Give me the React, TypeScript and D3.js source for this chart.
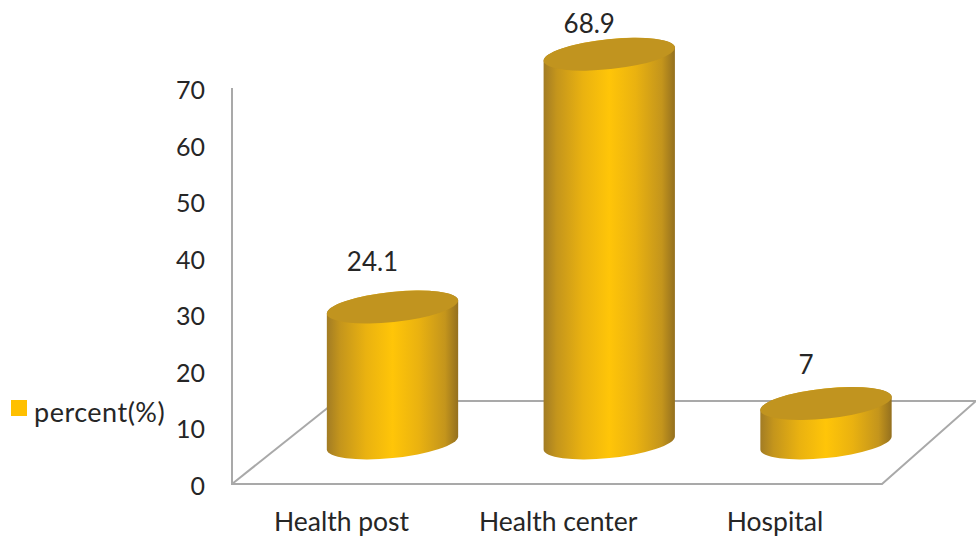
import React from "react";
import * as d3 from "d3";

const categories = ["Health post", "Health center", "Hospital"];
const percentValues = [24.1, 68.9, 7];
const axisTicks = [0, 10, 20, 30, 40, 50, 60, 70];
const seriesName = "percent(%)";

const WIDTH = 976;
const HEIGHT = 538;
const FONT = "Lato, 'Open Sans', sans-serif";
const AXIS_COLOR = "#a9a9a9";
const TEXT_COLOR = "#262626";

// Wall axis scale
const yAxis = d3.scaleLinear().domain([0, 70]).range([484, 88]);
const barX = d3.scalePoint<string>().domain(categories).range([392.5, 826]);
// Cylinders stand further back on the floor, so they have their own baseline
const barY = d3.scaleLinear().domain([0, 70]).range([443, 48]);

// Tilted elliptical caps
const CAP_RX = 66;
const CAP_RY = 15;
const CAP_TILT = -6;
const tilt = (CAP_TILT * Math.PI) / 180;
const halfX = Math.sqrt(CAP_RX ** 2 * Math.cos(tilt) ** 2 + CAP_RY ** 2 * Math.sin(tilt) ** 2);
const edgeDY = ((CAP_RX ** 2 - CAP_RY ** 2) * Math.abs(Math.sin(tilt) * Math.cos(tilt))) / halfX;

const bodyPath = (cx: number, top: number, bottom: number) => {
  const arc = `A${CAP_RX} ${CAP_RY} ${CAP_TILT} 0 0`;
  return (
    `M${cx - halfX} ${top + edgeDY}L${cx - halfX} ${bottom + edgeDY}` +
    `${arc} ${cx + halfX} ${bottom - edgeDY}L${cx + halfX} ${top - edgeDY}` +
    `${arc} ${cx - halfX} ${top + edgeDY}Z`
  );
};

// Value labels sit at differing heights above the caps in the perspective view
const labelLift = [45, 31, 39];
const labelShiftX = -20;
const categoryShiftX = -51;

export default function App() {
  return (
    <svg
      width={WIDTH}
      height={HEIGHT}
      viewBox={`0 0 ${WIDTH} ${HEIGHT}`}
      style={{ position: "absolute", left: 0, top: 0, background: "#fff" }}
      fontFamily={FONT}
      fill={TEXT_COLOR}
    >
      <defs>
        <linearGradient id="cylinderBody" x1="0" x2="1" y1="0" y2="0">
          <stop offset="0" stopColor="#a27c24" />
          <stop offset="0.1" stopColor="#c4951c" />
          <stop offset="0.3" stopColor="#eab210" />
          <stop offset="0.5" stopColor="#ffc508" />
          <stop offset="0.7" stopColor="#eab210" />
          <stop offset="0.9" stopColor="#c4951c" />
          <stop offset="1" stopColor="#94701f" />
        </linearGradient>
      </defs>

      {/* wall axis and floor outline */}
      <g stroke={AXIS_COLOR} strokeWidth={2} fill="none">
        <path d={`M232 ${yAxis(70)}L232 ${yAxis(0)}L882 ${yAxis(0)}L976 401`} />
        <path d={`M232 ${yAxis(0)}L330 406`} />
        <path d="M330 401L976 401" />
      </g>

      {axisTicks.map((t) => (
        <text key={t} x={205} y={yAxis(t) + 2} dy="0.36em" textAnchor="end" fontSize={25}>
          {t}
        </text>
      ))}

      {percentValues.map((v, i) => {
        const cx = barX(categories[i])!;
        const top = barY(v);
        return (
          <g key={categories[i]}>
            <path d={bodyPath(cx, top, barY(0))} fill="url(#cylinderBody)" />
            <ellipse
              cx={cx}
              cy={top}
              rx={CAP_RX}
              ry={CAP_RY}
              transform={`rotate(${CAP_TILT} ${cx} ${top})`}
              fill="#c1941f"
            />
            <text x={cx + labelShiftX} y={top - labelLift[i]} dy="0.36em" textAnchor="middle" fontSize={26}>
              {v}
            </text>
            <text x={cx + categoryShiftX} y={531} textAnchor="middle" fontSize={26.5}>
              {categories[i]}
            </text>
          </g>
        );
      })}

      {/* legend */}
      <rect x={11} y={400} width={16} height={16} fill="#ffc000" />
      <text x={34} y={412} dy="0.36em" fontSize={27} letterSpacing={0.5}>
        {seriesName}
      </text>
    </svg>
  );
}
